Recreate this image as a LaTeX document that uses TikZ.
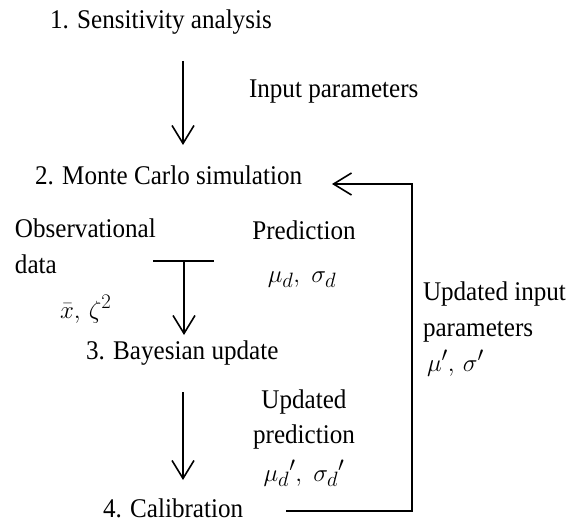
\documentclass[tikz,border=0pt]{standalone}
\usepackage{fontspec}
\setmainfont{Liberation Serif}[FakeStretch=0.93]
\usetikzlibrary{arrows.meta}

\begin{document}
\begin{tikzpicture}[x=1pt,y=-1pt,
    lbl/.style={inner sep=0pt, outer sep=0pt, anchor=base west, font=\fontsize{27}{30}\selectfont},
    clbl/.style={lbl, anchor=base},
    mlbl/.style={inner sep=0pt, outer sep=0pt, anchor=base west, font=\fontsize{29}{31}\selectfont},
    cmlbl/.style={mlbl, anchor=base},
    flow/.style={line width=1.6pt, -{Straight Barb[length=18pt,width=22pt,line width=1.6pt]}},
    link/.style={line width=1.6pt}]
  \useasboundingbox (0,0) rectangle (579,524);

  % process steps
  \node[lbl] (s1) at (50,29) {1. Sensitivity analysis};
  \node[lbl] (s2) at (35,185) {2. Monte Carlo simulation};
  \node[lbl] (s3) at (86,359) {3. Bayesian update};
  \node[lbl] (s4) at (103,517) {4. Calibration};

  % labels of the flows
  \node[lbl] (inpar) at (249,98) {Input parameters};
  \node[lbl] (obs) at (15,237) {Observational};
  \node[lbl] (obsdata) at (15,273) {data};
  \node[mlbl] (xz) at (60,318) {$\bar{x},\,\zeta^2$};
  \node[clbl] (pred) at (304,240) {Prediction};
  \node[cmlbl] (mud) at (302,282) {$\mu_d,\;\sigma_d$};
  \node[clbl] (upd) at (304,408) {Updated};
  \node[clbl] (updpred) at (304,443) {prediction};
  \node[cmlbl] (mudp) at (304,481) {$\mu_d{}',\;\sigma_d{}'$};
  \node[lbl] (uin) at (423,300) {Updated input};
  \node[lbl] (uinpar) at (423,336) {parameters};
  \node[mlbl] (musig) at (427,371) {$\mu',\,\sigma'$};

  % connector end points
  \coordinate (a1s) at (183,61);
  \coordinate (a1e) at (183,145);
  \coordinate (barL) at (153,261);
  \coordinate (barR) at (214,261);
  \coordinate (barM) at (184,261);
  \coordinate (a2e) at (184,335);
  \coordinate (a3s) at (183,392);
  \coordinate (a3e) at (183,480);
  \coordinate (fbS) at (286,511);
  \coordinate (fbC1) at (412,511);
  \coordinate (fbC2) at (412,184);
  \coordinate (fbE) at (332,184);

  % flows
  \draw[flow] (a1s) -- (a1e);
  \draw[link] (barL) -- (barR);
  \draw[flow] (barM) -- (a2e);
  \draw[flow] (a3s) -- (a3e);
  \draw[flow] (fbS) -- (fbC1) -- (fbC2) -- (fbE);
\end{tikzpicture}
\end{document}
